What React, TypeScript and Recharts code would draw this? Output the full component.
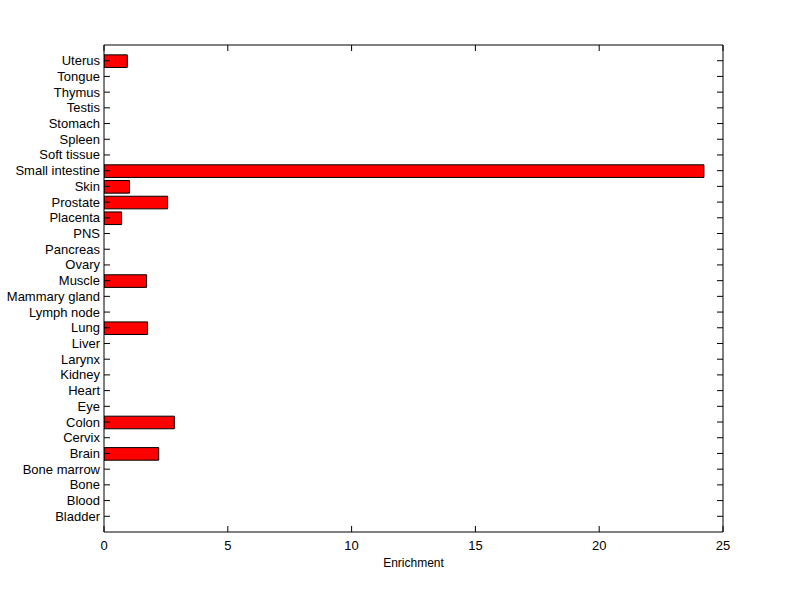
import React from 'react';
import { BarChart, Bar, XAxis, YAxis } from 'recharts';

const categories = [
  'Bladder', 'Blood', 'Bone', 'Bone marrow', 'Brain', 'Cervix', 'Colon', 'Eye', 'Heart', 'Kidney',
  'Larynx', 'Liver', 'Lung', 'Lymph node', 'Mammary gland', 'Muscle', 'Ovary', 'Pancreas', 'PNS',
  'Placenta', 'Prostate', 'Skin', 'Small intestine', 'Soft tissue', 'Spleen', 'Stomach', 'Testis',
  'Thymus', 'Tongue', 'Uterus',
];

const enrichment = [
  0, 0, 0, 0, 2.21, 0, 2.84, 0, 0, 0,
  0, 0, 1.76, 0, 0, 1.72, 0, 0, 0,
  0.71, 2.57, 1.03, 24.23, 0, 0, 0, 0,
  0, 0, 0.94,
];

const xTicks = [0, 5, 10, 15, 20, 25];

const data = categories.map((name, i) => ({ name, pos: i + 1, value: enrichment[i] }));
const yTicks = data.map((d) => d.pos);

const FONT = 'Liberation Sans, Arial, sans-serif';
const FS = 13;

const BottomTick = (props: any) => {
  const { x, y, payload } = props;
  return (
    <g>
      <line x1={x} x2={x} y1={y} y2={y - 6} stroke="#000" strokeWidth={1} />
      <text x={x} y={y + 18} textAnchor="middle" fontFamily={FONT} fontSize={FS} fill="#000">
        {payload.value}
      </text>
    </g>
  );
};

const TopTick = (props: any) => {
  const { x, y } = props;
  return <line x1={x} x2={x} y1={y} y2={y + 6} stroke="#000" strokeWidth={1} />;
};

const LeftTick = (props: any) => {
  const { x, y, payload } = props;
  const label = categories[payload.value - 1] ?? '';
  return (
    <g>
      <line x1={x} x2={x + 6} y1={y} y2={y} stroke="#000" strokeWidth={1} />
      <text x={x - 4} y={y + 4.5} textAnchor="end" fontFamily={FONT} fontSize={FS} fill="#000">
        {label}
      </text>
    </g>
  );
};

const RightTick = (props: any) => {
  const { x, y } = props;
  return <line x1={x} x2={x - 6} y1={y} y2={y} stroke="#000" strokeWidth={1} />;
};

export default function App() {
  return (
    <div style={{ position: 'absolute', left: 0, top: 0, width: 800, height: 599, background: '#fff' }}>
      <BarChart
        width={800}
        height={599}
        data={data}
        layout="vertical"
        margin={{ top: 0, right: 0, bottom: 0, left: 0 }}
      >
        <XAxis
          xAxisId="bottom"
          type="number"
          orientation="bottom"
          domain={[0, 25]}
          ticks={xTicks}
          allowDataOverflow
          height={67}
          tickSize={0}
          tickMargin={0}
          tickLine={false}
          axisLine={{ stroke: '#000', strokeWidth: 1 }}
          tick={<BottomTick />}
          interval={0}
          label={{ value: 'Enrichment', position: 'insideBottom', offset: 32, fill: '#000', fontSize: 12, fontFamily: FONT }}
        />
        <XAxis
          xAxisId="top"
          type="number"
          orientation="top"
          domain={[0, 25]}
          ticks={xTicks}
          allowDataOverflow
          height={45}
          tickSize={0}
          tickMargin={0}
          tickLine={false}
          axisLine={{ stroke: '#000', strokeWidth: 1 }}
          tick={<TopTick />}
          interval={0}
        />
        <YAxis
          yAxisId="left"
          type="number"
          dataKey="pos"
          orientation="left"
          domain={[0, 31]}
          ticks={yTicks}
          reversed
          allowDataOverflow
          width={104}
          tickSize={0}
          tickMargin={0}
          tickLine={false}
          axisLine={{ stroke: '#000', strokeWidth: 1 }}
          tick={<LeftTick />}
          interval={0}
        />
        <YAxis
          yAxisId="right"
          type="number"
          dataKey="pos"
          orientation="right"
          domain={[0, 31]}
          ticks={yTicks}
          reversed
          allowDataOverflow
          width={77}
          tickSize={0}
          tickMargin={0}
          tickLine={false}
          axisLine={{ stroke: '#000', strokeWidth: 1 }}
          tick={<RightTick />}
          interval={0}
        />
        <Bar
          xAxisId="bottom"
          yAxisId="left"
          dataKey="value"
          fill="#ff0000"
          stroke="#000"
          strokeWidth={1}
          barSize={12.6}
          isAnimationActive={false}
        />
      </BarChart>
    </div>
  );
}
